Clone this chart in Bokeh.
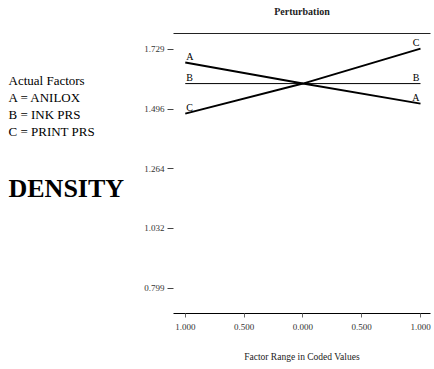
from bokeh.plotting import figure
from bokeh.models import FixedTicker, LinearAxis, Range1d
from bokeh.layouts import row
from bokeh.core.properties import value
from bokeh.embed import file_html
from bokeh.resources import INLINE

# ---- data ----
coded_x = [-1.0, 0.0, 1.0]
factor_a = [1.677, 1.595, 1.517]   # ANILOX
factor_b = [1.595, 1.595, 1.595]   # INK PRS
factor_c = [1.478, 1.595, 1.731]   # PRINT PRS
factor_names = ["A", "B", "C"]
y_ticks = [0.799, 1.032, 1.264, 1.496, 1.729]
x_ticks = [-1.0, -0.5, 0.0, 0.5, 1.0]
x_tick_labels = ["1.000", "0.500", "0.000", "0.500", "1.000"]
legend_lines = ["Actual Factors", "A = ANILOX", "B = INK PRS", "C = PRINT PRS"]
response_name = "DENSITY"
plot_title = "Perturbation"

H = 366
LW = 132                      # width of the left text panel
MW = 300                      # width of the main plot
FL, FR, FT, FB = 173, 430, 33, 313   # frame edges in page px
SERIF = "Liberation Serif"

# ---- left text panel (frame aligned with main frame vertically) ----
left = figure(width=LW, height=H, output_backend="svg", toolbar_location=None,
              x_range=Range1d(0, LW), y_range=Range1d(FB, FT),
              min_border_left=0, min_border_right=0,
              min_border_top=FT, min_border_bottom=H - FB,
              outline_line_color=None)
left.axis.visible = False
left.grid.visible = False
left.text([8] * len(legend_lines), [80 + 17 * i for i in range(len(legend_lines))],
          text=legend_lines, text_font=value(SERIF), text_font_size="13px",
          text_align="left", text_baseline="middle", text_color="black")
left.text([8], [188], text=[response_name], text_font=value(SERIF),
          text_font_size="26px", text_font_style="bold",
          text_align="left", text_baseline="middle", text_color="black")

# ---- main plot ----
p = figure(width=MW, height=H, output_backend="svg", toolbar_location=None,
           x_range=Range1d(-1.10, 1.085), y_range=Range1d(0.70, 1.79),
           min_border_left=FL - LW, min_border_right=LW + MW - FR,
           min_border_top=FT, min_border_bottom=H - FB)
p.outline_line_color = None
p.xgrid.visible = False
p.ygrid.visible = False

ya = p.yaxis[0]
ya.ticker = FixedTicker(ticks=y_ticks, minor_ticks=[])
ya.major_label_overrides = {t: f"{t:.3f}" for t in y_ticks}
ya.axis_line_color = None
ya.major_tick_in = 0
ya.major_tick_out = 6
ya.major_tick_line_color = "#444444"
ya.minor_tick_line_color = None
ya.major_label_text_font = SERIF
ya.major_label_text_font_size = "9px"
ya.major_label_text_color = "#333333"
ya.major_label_standoff = 3

xa = p.xaxis[0]
xa.ticker = FixedTicker(ticks=x_ticks, minor_ticks=[])
xa.major_label_overrides = {t: l for t, l in zip(x_ticks, x_tick_labels)}
xa.axis_line_color = "black"
xa.axis_line_width = 1
xa.major_tick_in = 0
xa.major_tick_out = 4
xa.major_tick_line_color = "#666666"
xa.minor_tick_line_color = None
xa.major_label_text_font = SERIF
xa.major_label_text_font_size = "9px"
xa.major_label_text_color = "#333333"
xa.major_label_standoff = 6
xa.axis_label = "Factor Range in Coded Values"
xa.axis_label_text_font = SERIF
xa.axis_label_text_font_size = "9.5px"
xa.axis_label_text_font_style = "normal"
xa.axis_label_text_color = "#222222"
xa.axis_label_standoff = 19

top = LinearAxis(ticker=FixedTicker(ticks=[]), major_label_text_font_size="0px",
                 major_label_standoff=0, major_tick_in=0, major_tick_out=0,
                 major_tick_line_color=None, minor_tick_line_color=None,
                 axis_line_color="#222222", axis_line_width=1,
                 axis_label=plot_title, axis_label_standoff=17,
                 axis_label_text_font=SERIF, axis_label_text_font_size="10px",
                 axis_label_text_font_style="bold", axis_label_text_color="#222222")
p.add_layout(top, "above")

p.line(coded_x, factor_a, line_color="black", line_width=2)
p.line(coded_x, factor_b, line_color="black", line_width=1)
p.line(coded_x, factor_c, line_color="black", line_width=2)

series = [factor_a, factor_b, factor_c]
p.text([coded_x[0]] * 3, [s[0] for s in series], text=factor_names,
       text_font=value(SERIF), text_font_size="10px",
       text_align="left", text_baseline="bottom", y_offset=-1, x_offset=1)
p.text([coded_x[-1]] * 3, [s[-1] for s in series], text=factor_names,
       text_font=value(SERIF), text_font_size="10px",
       text_align="right", text_baseline="bottom", y_offset=-1, x_offset=-1)

layout = row(left, p)
open("out.html", "w").write(file_html(layout, INLINE))
